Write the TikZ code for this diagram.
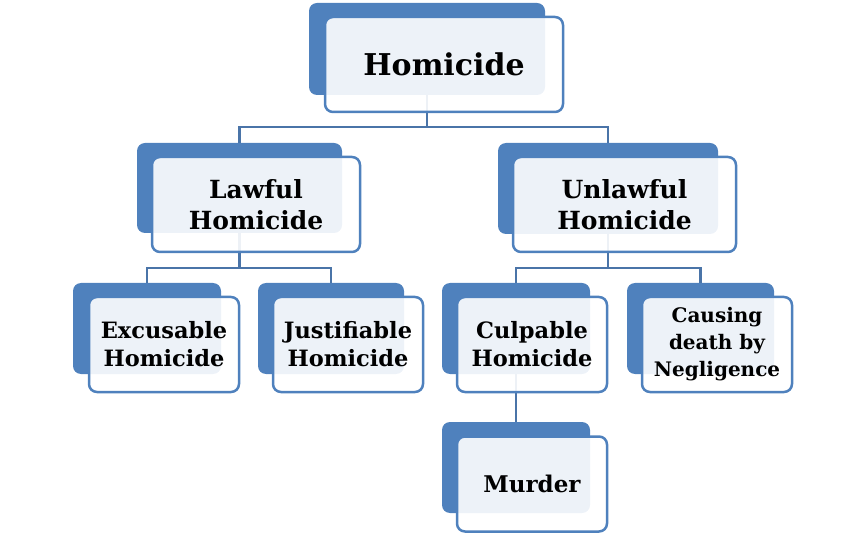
\documentclass[tikz,border=0pt]{standalone}
\usepackage{fontspec}
\setmainfont{DejaVu Serif}
\usetikzlibrary{positioning}
\definecolor{boxblue}{HTML}{4F81BD}
\definecolor{linkblue}{HTML}{4A74A8}

\tikzset{
  back/.style args={#1x#2}{rectangle, rounded corners=8pt, fill=boxblue, draw=none,
    minimum width=#1pt, minimum height=#2pt, inner sep=0pt},
  front/.style args={#1x#2}{rectangle, rounded corners=8pt, fill=white, fill opacity=0.9,
    text opacity=1, draw=boxblue, line width=2.5pt, minimum width=#1pt, minimum height=#2pt,
    inner sep=0pt, align=center, font=\bfseries\fontsize{22.5}{28}\selectfont},
  link/.style={draw=linkblue, line width=2.5pt}
}

\begin{document}
\begin{tikzpicture}[x=1pt,y=-1pt]
\useasboundingbox (0,0) rectangle (864,534);

% back plates
\node[back=236x92] (homB) at (427,49) {};
\node[back=205x90] (lawB) at (239.5,188) {};
\node[back=220x91] (unlB) at (608,188.5) {};
\node[back=148x91] (excB) at (147,328.5) {};
\node[back=146x91] (jusB) at (331,328.5) {};
\node[back=148x91] (culB) at (516,328.5) {};
\node[back=147x91] (negB) at (700.5,328.5) {};
\node[back=148x91] (murB) at (516,467.5) {};

% connectors
\draw[link] (lawB.north) -- ++(0,-16) -| (homB.south);
\draw[link] (unlB.north) -- ++(0,-16) -| (homB.south);
\draw[link] (excB.north) -- ++(0,-15) -| (lawB.south);
\draw[link] (jusB.north) -- ++(0,-15) -| (lawB.south);
\draw[link] (culB.north) -- ++(0,-15) -| (unlB.south);
\draw[link] (negB.north) -- ++(0,-15) -| (unlB.south);
\draw[link] (culB.south) -- (murB.north);

% front cards
\node[front=238x95, font=\bfseries\fontsize{30}{34}\selectfont] (hom) at (444,64.5) {Homicide};
\node[front=208x95, font=\bfseries\fontsize{25}{31}\selectfont] (law) at (256,204.5) {Lawful\\Homicide};
\node[front=223x95, font=\bfseries\fontsize{25}{31}\selectfont] (unl) at (624.5,204.5) {Unlawful\\Homicide};
\node[front=150x95] (exc) at (164,344.5) {Excusable\\Homicide};
\node[front=150x95] (jus) at (348,344.5) {Justifiable\\Homicide};
\node[front=150x95] (cul) at (532,344.5) {Culpable\\Homicide};
\node[front=150x95, font=\bfseries\fontsize{20}{27}\selectfont] (neg) at (717,344.5) {Causing\\death by\\Negligence};
\node[front=150x95, font=\bfseries\fontsize{23}{28}\selectfont] (mur) at (532,484) {Murder};
\end{tikzpicture}
\end{document}
